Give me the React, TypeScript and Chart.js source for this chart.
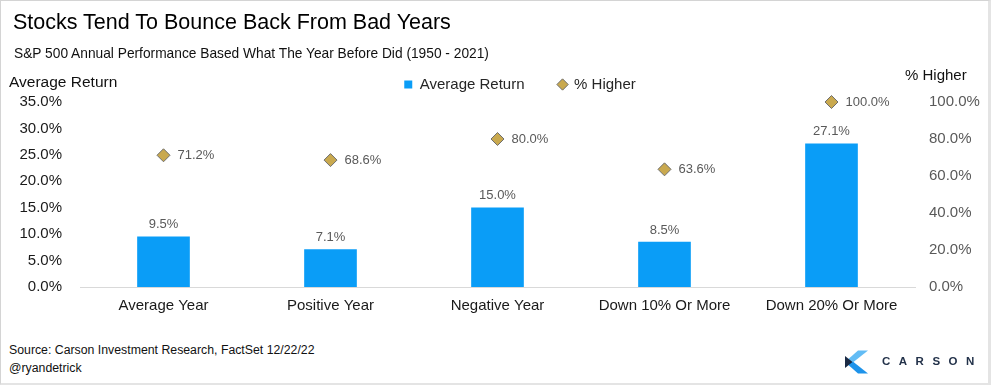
import React, { useEffect, useRef } from "react";
import { Chart, registerables } from "chart.js";

Chart.register(...registerables);

const categories = ["Average Year", "Positive Year", "Negative Year", "Down 10% Or More", "Down 20% Or More"];
const averageReturn = [9.5, 7.1, 15.0, 8.5, 27.1];
const pctHigher = [71.2, 68.6, 80.0, 63.6, 100.0];
const leftAxis = { min: 0, max: 35, step: 5 };
const rightAxis = { min: 0, max: 100, step: 20 };

const FONT = '"Liberation Sans", Arial, Helvetica, sans-serif';
const BLUE = "#0A9DF7";
const GOLD = "#C9A94F";
const GOLD_BORDER = "#6E6E6E";
const GRAY = "#595959";

const W = 991;
const CANVAS_W = 1040;
const CANVAS_H = 330;

const valueLabels = {
  id: "valueLabels",
  afterDatasetsDraw(chart: any) {
    const ctx = chart.ctx;
    ctx.save();
    ctx.font = `13px ${FONT}`;
    ctx.fillStyle = GRAY;
    ctx.textBaseline = "middle";
    chart.data.datasets.forEach((ds: any, di: number) => {
      const meta = chart.getDatasetMeta(di);
      meta.data.forEach((el: any, i: number) => {
        const txt = (ds.data[i] as number).toFixed(1) + "%";
        if (meta.type === "bar") {
          ctx.textAlign = "center";
          ctx.fillText(txt, el.x, el.y - 12);
        } else {
          ctx.textAlign = "left";
          ctx.fillText(txt, el.x + 14, el.y);
        }
      });
    });
    ctx.restore();
  },
};

export default function App() {
  const ref = useRef<HTMLCanvasElement | null>(null);

  useEffect(() => {
    if (!ref.current) return;
    const chart = new Chart(ref.current, {
      type: "bar",
      data: {
        labels: categories,
        datasets: [
          {
            type: "bar",
            label: "Average Return",
            data: averageReturn,
            backgroundColor: BLUE,
            borderWidth: 0,
            barThickness: 52,
            yAxisID: "y",
          } as any,
          {
            type: "line",
            label: "% Higher",
            data: pctHigher,
            yAxisID: "y1",
            showLine: false,
            clip: false,
            backgroundColor: GOLD,
            borderColor: GOLD_BORDER,
            pointStyle: "rectRot",
            pointRadius: 6.5,
            pointBackgroundColor: GOLD,
            pointBorderColor: GOLD_BORDER,
            pointBorderWidth: 1,
          } as any,
        ],
      },
      options: {
        responsive: false,
        animation: false,
        devicePixelRatio: 1,
        events: [],
        layout: { padding: { top: 43, left: 0, right: 0, bottom: 0 } },
        plugins: {
          tooltip: { enabled: false },
          legend: {
            display: true,
            position: "top",
            labels: {
              usePointStyle: true,
              boxWidth: 8,
              boxHeight: 8,
              padding: 34,
              color: "#262626",
              font: { family: FONT, size: 15 },
              generateLabels: (c: any) => {
                const items = (Chart.defaults.plugins.legend.labels as any).generateLabels(c);
                items.forEach((it: any, i: number) => {
                  if (i === 0) {
                    it.pointStyle = "rect";
                    it.fillStyle = BLUE;
                    it.strokeStyle = BLUE;
                    it.lineWidth = 0;
                  } else {
                    it.pointStyle = "rectRot";
                    it.fillStyle = GOLD;
                    it.strokeStyle = GOLD_BORDER;
                    it.lineWidth = 1;
                  }
                });
                return items;
              },
            },
          },
        },
        scales: {
          x: {
            offset: true,
            grid: { display: false, drawTicks: false },
            border: { display: true, color: "#D9D9D9", width: 1 },
            ticks: { color: "#1A1A1A", font: { family: FONT, size: 15 }, padding: 10, maxRotation: 0, autoSkip: false },
            afterFit: (s: any) => {
              s.height = CANVAS_H - 287;
            },
          },
          y: {
            position: "left",
            min: leftAxis.min,
            max: leftAxis.max,
            grid: { display: false, drawTicks: false },
            border: { display: false },
            ticks: {
              stepSize: leftAxis.step,
              color: "#1A1A1A",
              font: { family: FONT, size: 15 },
              padding: 18,
              callback: (v: any) => Number(v).toFixed(1) + "%",
            },
            afterFit: (s: any) => {
              s.width = 80;
            },
          },
          y1: {
            position: "right",
            min: rightAxis.min,
            max: rightAxis.max,
            grid: { display: false, drawTicks: false },
            border: { display: false },
            ticks: {
              stepSize: rightAxis.step,
              color: GRAY,
              font: { family: FONT, size: 15 },
              padding: 14,
              callback: (v: any) => Number(v).toFixed(1) + "%",
            },
            afterFit: (s: any) => {
              s.width = CANVAS_W - 915;
            },
          },
        },
      } as any,
      plugins: [valueLabels],
    });
    return () => chart.destroy();
  }, []);

  const text = (style: React.CSSProperties): React.CSSProperties => ({
    position: "absolute",
    fontFamily: FONT,
    lineHeight: 1,
    whiteSpace: "nowrap",
    margin: 0,
    ...style,
  });

  return (
    <div style={{ position: "fixed", left: 0, top: 0, width: W, height: 385, background: "#fff", overflow: "hidden" }}>
      <canvas
        ref={ref}
        width={CANVAS_W}
        height={CANVAS_H}
        style={{ position: "absolute", left: 0, top: 0, width: CANVAS_W, height: CANVAS_H }}
      />
      <div style={text({ left: 13, top: 12, fontSize: 21.5, color: "#000" })}>Stocks Tend To Bounce Back From Bad Years</div>
      <div style={text({ left: 14, top: 46.5, fontSize: 13.75, color: "#111" })}>
        S&amp;P 500 Annual Performance Based What The Year Before Did (1950 - 2021)
      </div>
      <div style={text({ left: 9, top: 74, fontSize: 15.5, color: "#111" })}>Average Return</div>
      <div style={text({ left: 905, top: 67, fontSize: 15, color: "#111" })}>% Higher</div>
      <div style={text({ left: 9, top: 343.5, fontSize: 12.3, color: "#111" })}>
        Source: Carson Investment Research, FactSet 12/22/22
      </div>
      <div style={text({ left: 9, top: 362, fontSize: 12.3, color: "#111" })}>@ryandetrick</div>
      <svg width={W} height={385} style={{ position: "absolute", left: 0, top: 0 }}>
        <polygon points="858,350.5 868,350.5 853.5,362 845,362" fill="#62BCF5" />
        <polygon points="845,362 853.5,362 868,373.5 858,373.5" fill="#1E93EA" />
        <polygon points="845,356 852.5,362 845,368" fill="#1B2A44" />
        <text x={882} y={365} fontFamily={FONT} fontSize={11.5} fontWeight={600} letterSpacing={8.5} fill="#23324A">
          CARSON
        </text>
      </svg>
      <div
        style={{
          position: "absolute",
          left: 0,
          top: 0,
          width: W,
          height: 385,
          boxSizing: "border-box",
          borderTop: "1px solid #D4D4D4",
          borderLeft: "1px solid #D4D4D4",
          borderRight: "3px solid #E4E4E4",
          borderBottom: "2px solid #E4E4E4",
          pointerEvents: "none",
        }}
      />
    </div>
  );
}
